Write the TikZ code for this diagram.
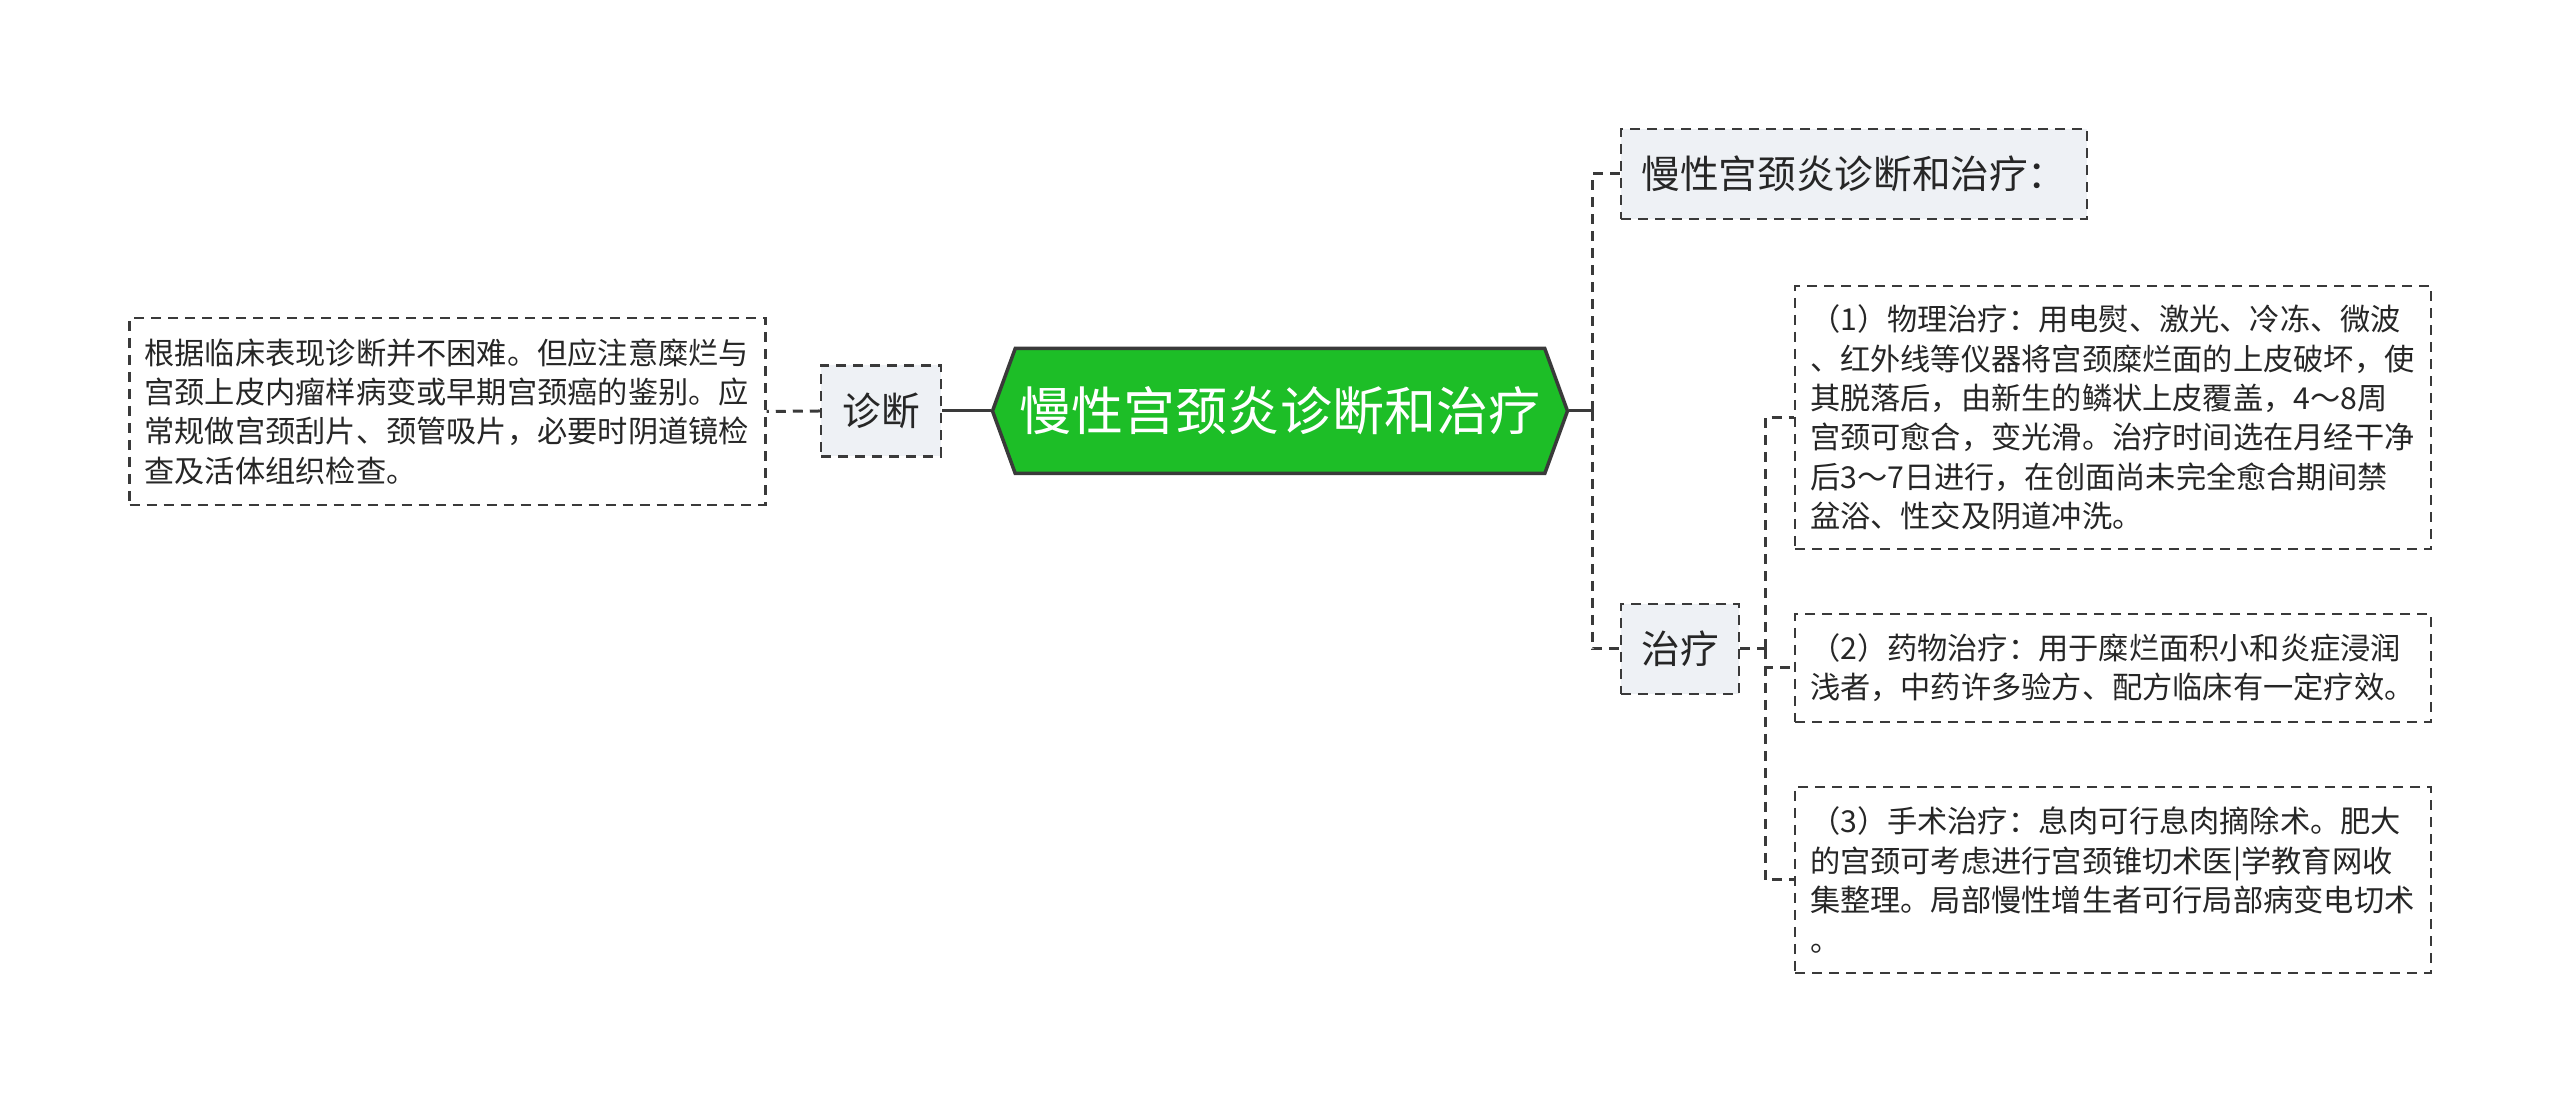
\documentclass[tikz,border=0pt]{standalone}
\usepackage{fontspec}
\newfontfamily\cjk{Noto Sans CJK SC}
\usetikzlibrary{shapes.symbols}
\definecolor{rootgreen}{HTML}{1DBE27}
\definecolor{edgegray}{HTML}{3A3A3A}
\definecolor{tagfill}{HTML}{EEF1F5}
\begin{document}
\begin{tikzpicture}[
      x=0.1mm, y=-0.1mm,
      root/.style={
        signal, signal to=west and east, signal pointer angle=140,
        draw=edgegray, line width=0.35mm, fill=rootgreen, text=white,
        minimum width=57.5mm, minimum height=12.5mm, inner sep=0pt,
        font=\cjk\fontsize{14.8}{17}\selectfont
      },
      tag/.style={
        draw=edgegray, dash pattern=on 1mm off 0.7mm, line width=0.25mm,
        fill=tagfill, inner sep=0pt, text=black!85,
        font=\cjk\fontsize{11}{13}\selectfont
      },
      leaf/.style={
        draw=edgegray, dash pattern=on 1mm off 0.7mm, line width=0.22mm,
        fill=white, align=left, text width=60.6mm, inner xsep=1.5mm,
        inner ysep=0pt, text=black!85,
        font=\cjk\fontsize{8.6}{11.2}\selectfont
      },
      link/.style={draw=edgegray, line width=0.3mm},
      dlink/.style={draw=edgegray, line width=0.3mm, dash pattern=on 1mm off 0.7mm}
    ]
    \useasboundingbox (0,0) rectangle (2560,1103);

    \node[root] (root) at (1280,411) {慢性宫颈炎诊断和治疗};

    \node[tag, minimum width=12mm, minimum height=9.1mm] (diag) at (881,411) {诊断};
    \node[leaf, minimum height=18.7mm] (diagtxt) at (447.5,411.5) {根据临床表现诊断并不困难。但应注意糜烂与\\
      宫颈上皮内瘤样病变或早期宫颈癌的鉴别。应\\
      常规做宫颈刮片、颈管吸片，必要时阴道镜检\\
      查及活体组织检查。};

    \node[tag, minimum width=46.6mm, minimum height=9mm] (title) at (1854,174) {慢性宫颈炎诊断和治疗：};
    \node[tag, minimum width=11.8mm, minimum height=9mm] (treat) at (1680,649) {治疗};

    \node[leaf, minimum height=26.3mm] (phys) at (2113,417.5) {（1）物理治疗：用电熨、激光、冷冻、微波\\
      、红外线等仪器将宫颈糜烂面的上皮破坏，使\\
      其脱落后，由新生的鳞状上皮覆盖，4～8周\\
      宫颈可愈合，变光滑。治疗时间选在月经干净\\
      后3～7日进行，在创面尚未完全愈合期间禁\\
      盆浴、性交及阴道冲洗。};
    \node[leaf, minimum height=10.8mm] (drug) at (2113,668) {（2）药物治疗：用于糜烂面积小和炎症浸润\\
      浅者，中药许多验方、配方临床有一定疗效。};
    \node[leaf, minimum height=18.6mm] (surg) at (2113,880) {（3）手术治疗：息肉可行息肉摘除术。肥大\\
      的宫颈可考虑进行宫颈锥切术医|学教育网收\\
      集整理。局部慢性增生者可行局部病变电切术\\
      。};

    \coordinate (rtrunk) at (1592,411);
    \coordinate (ttrunk) at (1765,649);

    \draw[link] (root.west) -- (diag.east);
    \draw[dlink] (diag.west) -- (diagtxt.east);

    \draw[link] (root.east) -- (rtrunk);
    \draw[dlink] (rtrunk) |- (title.west);
    \draw[dlink] (rtrunk) |- (treat.west);

    \draw[dlink] (treat.east) -- (ttrunk);
    \draw[dlink] (ttrunk) |- (phys.west);
    \draw[dlink] (ttrunk) -- (ttrunk |- drug.west) -- (drug.west);
    \draw[dlink] (ttrunk) |- (surg.west);
  \end{tikzpicture}
\end{document}
